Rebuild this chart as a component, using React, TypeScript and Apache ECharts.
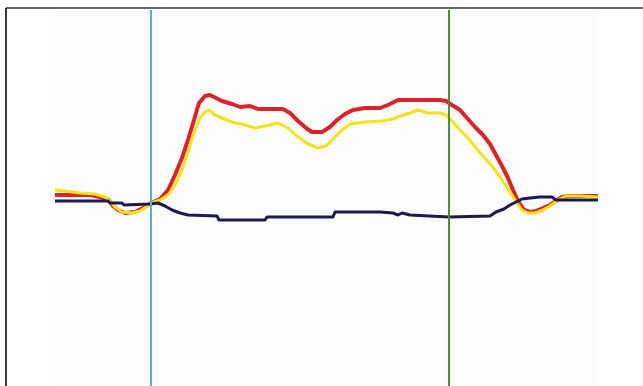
import React, { useEffect, useRef } from "react";
import * as echarts from "echarts";

// Sample positions and signal levels for the three traces
const redX = [0, 35, 45, 54, 58, 63, 70, 80, 88, 96, 105, 113, 120, 127, 133, 139, 144, 150, 155, 161, 167, 177, 185, 195, 203, 215, 228, 235, 243, 251, 257, 267, 275, 282, 290, 298, 310, 325, 333, 343, 365, 385, 391, 397, 405, 412, 420, 428, 435, 441, 447, 453, 458, 463, 469, 475, 481, 488, 495, 501, 507, 515, 530, 543];
const redY = [5, 5, 3, 0, -6, -10, -13, -12, -8, -3, 1, 10, 25, 42, 60, 80, 97, 104, 105, 102, 99, 96, 93, 94, 91, 91, 91, 87, 79, 72, 68, 68, 73, 80, 86, 90, 92, 92, 95, 100, 100, 100, 99, 95, 90, 82, 73, 65, 56, 45, 34, 22, 10, -1, -10, -12, -11, -8, -5, -1, 3, 4, 4, 4];

const yellowX = [0, 10, 25, 40, 50, 55, 60, 67, 77, 85, 91, 96, 105, 113, 120, 127, 133, 139, 145, 150, 154, 160, 167, 177, 190, 200, 210, 223, 233, 243, 253, 263, 271, 279, 287, 295, 310, 327, 338, 345, 355, 363, 373, 385, 391, 397, 405, 413, 421, 429, 437, 445, 451, 457, 462, 467, 473, 480, 488, 495, 503, 511, 525, 543];
const yellowY = [10, 9, 7, 6, 3, -1, -7, -12, -13, -11, -7, -3, 0, 5, 15, 30, 48, 68, 82, 88, 90, 85, 82, 78, 75, 72, 74, 77, 72, 63, 56, 52, 54, 62, 70, 76, 78, 79, 81, 84, 87, 90, 87, 87, 85, 79, 70, 62, 52, 43, 34, 23, 14, 5, -3, -10, -13, -13, -10, -6, 0, 4, 4, 3];

const navyX = [0, 53, 55, 67, 69, 95, 103, 110, 117, 125, 133, 162, 164, 210, 212, 278, 280, 325, 338, 343, 347, 355, 394, 435, 441, 449, 455, 461, 467, 475, 485, 497, 501, 543];
const navyY = [-1, -1, -3, -3, -5, -4, -3, -6, -10, -13, -15, -16, -20, -20, -17, -17, -12, -12, -13, -15, -13, -15, -17, -16, -12, -9, -5, -2, 1, 2, 3, 3, 0, 0];

// Cursor positions (vertical markers)
const cursorStart = 96;
const cursorEnd = 394;

const zip = (xs: number[], ys: number[]) => xs.map((x, i) => [x, ys[i]]);

export default function App() {
  const ref = useRef<HTMLDivElement>(null);

  useEffect(() => {
    if (!ref.current) return;
    const chart = echarts.init(ref.current, undefined, { renderer: "svg" });
    chart.setOption({
      animation: false,
      backgroundColor: "#ffffff",
      grid: { left: 55, top: 10, width: 543, height: 376, show: true, backgroundColor: "#fcfcfc", borderWidth: 0 },
      xAxis: { type: "value", min: 0, max: 543, show: false },
      yAxis: { type: "value", min: -186, max: 190, show: false },
      graphic: [
        { type: "line", shape: { x1: 6, y1: 8, x2: 643, y2: 8 }, style: { stroke: "#6a6a6a", lineWidth: 2 } },
        { type: "line", shape: { x1: 6, y1: 8, x2: 6, y2: 386 }, style: { stroke: "#3a3a3a", lineWidth: 2 } },
      ],
      series: [
        {
          type: "line",
          data: zip(redX, redY),
          showSymbol: false,
          lineStyle: { color: "#d8242a", width: 4 },
          z: 2,
        },
        {
          type: "line",
          data: zip(yellowX, yellowY),
          showSymbol: false,
          lineStyle: { color: "#f6e21c", width: 3 },
          z: 3,
        },
        {
          type: "line",
          data: zip(navyX, navyY),
          showSymbol: false,
          lineStyle: { color: "#1c1a50", width: 3 },
          z: 4,
          markLine: {
            silent: true,
            symbol: "none",
            label: { show: false },
            data: [
              { xAxis: cursorStart, lineStyle: { color: "#5aaed8", width: 2, type: "solid" } },
              { xAxis: cursorEnd, lineStyle: { color: "#4a8f35", width: 2, type: "solid" } },
            ],
          },
        },
      ],
    });
    return () => chart.dispose();
  }, []);

  return (
    <div
      ref={ref}
      style={{ position: "fixed", left: 0, top: 0, width: 643, height: 386 }}
    />
  );
}
